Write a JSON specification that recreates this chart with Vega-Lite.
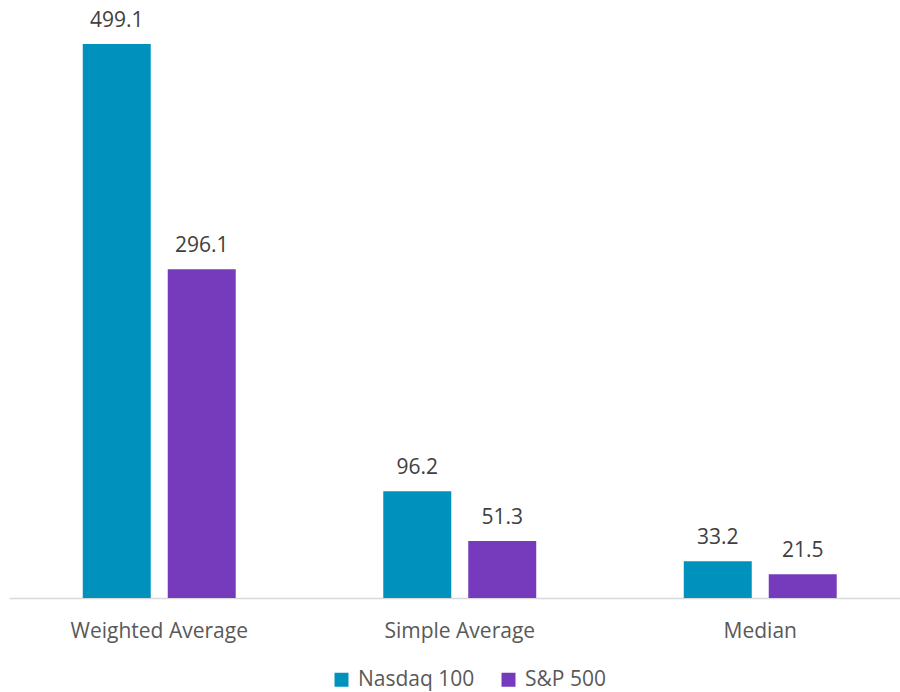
{
  "$schema": "https://vega.github.io/schema/vega-lite/v6.json",
  "autosize": {"type": "none"},
  "width": 891,
  "height": 555,
  "padding": {"left": 9, "top": 43, "right": 0, "bottom": 94},
  "background": "white",
  "config": {
    "view": {"stroke": null},
    "font": "Open Sans"
  },
  "data": {
    "values": [
      {"measure": "Weighted Average", "index": "Nasdaq 100", "value": 499.1},
      {"measure": "Weighted Average", "index": "S&P 500", "value": 296.1},
      {"measure": "Simple Average", "index": "Nasdaq 100", "value": 96.2},
      {"measure": "Simple Average", "index": "S&P 500", "value": 51.3},
      {"measure": "Median", "index": "Nasdaq 100", "value": 33.2},
      {"measure": "Median", "index": "S&P 500", "value": 21.5}
    ]
  },
  "encoding": {
    "x": {
      "field": "measure",
      "type": "nominal",
      "sort": ["Weighted Average", "Simple Average", "Median"],
      "scale": {"paddingInner": 0, "paddingOuter": 0, "range": [0, 901.5]},
      "axis": {
        "title": null,
        "ticks": false,
        "tickSize": 0,
        "labelPadding": 22,
        "labelFontSize": 21,
        "labelColor": "#595959",
        "labelFont": "Open Sans",
        "domainColor": "#d9d9d9",
        "domainWidth": 1.5,
        "labelAngle": 0
      }
    },
    "xOffset": {
      "field": "index",
      "type": "nominal",
      "sort": ["Nasdaq 100", "S&P 500"],
      "scale": {"paddingInner": 0.2, "paddingOuter": 0.868}
    },
    "y": {
      "field": "value",
      "type": "quantitative",
      "scale": {"domain": [0, 500], "nice": false},
      "axis": null
    }
  },
  "layer": [
    {
      "mark": {"type": "bar"},
      "encoding": {
        "color": {
          "field": "index",
          "type": "nominal",
          "sort": ["Nasdaq 100", "S&P 500"],
          "scale": {"range": ["#0092bd", "#763bbc"]},
          "legend": {
            "title": null,
            "orient": "none",
            "direction": "horizontal",
            "legendX": 322,
            "legendY": 626,
            "symbolType": "square",
            "symbolSize": 196,
            "symbolStrokeWidth": 0,
            "labelFontSize": 21,
            "labelColor": "#595959",
            "labelFont": "Open Sans",
            "labelOffset": 6,
            "columnPadding": 23
          }
        }
      }
    },
    {
      "mark": {
        "type": "text",
        "baseline": "alphabetic",
        "dy": -17,
        "fontSize": 21,
        "color": "#404040",
        "font": "Open Sans"
      },
      "encoding": {
        "text": {"field": "value", "type": "quantitative", "format": ".1f"}
      }
    }
  ]
}
